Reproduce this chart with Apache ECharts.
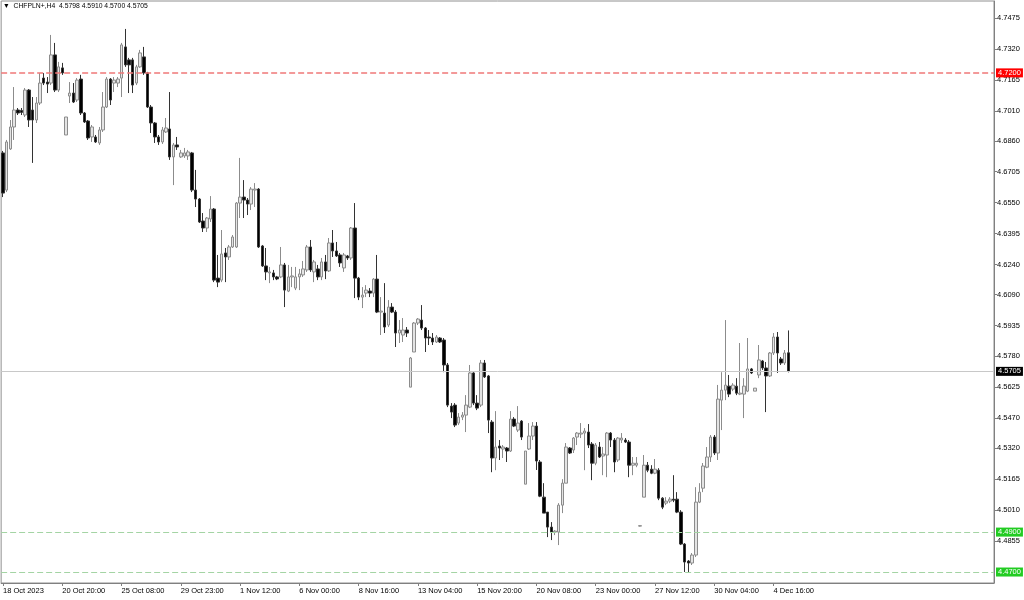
<!DOCTYPE html>
<html>
<head>
<meta charset="utf-8">
<script src="https://cdn.jsdelivr.net/npm/echarts@6/dist/echarts.min.js"></script>
<style>
html,body{margin:0;padding:0;background:#fff;}
#chart{width:1024px;height:600px;}
</style>
</head>
<body>
<div id="chart"></div>
<script>
// ---- data ----
const symbolTitle = '\u25BC  CHFPLN+,H4  4.5798 4.5910 4.5700 4.5705';
const timeLabels = ['18 Oct 2023','20 Oct 20:00','25 Oct 08:00','29 Oct 23:00','1 Nov 12:00','6 Nov 00:00','8 Nov 16:00','13 Nov 04:00','15 Nov 20:00','20 Nov 08:00','23 Nov 00:00','27 Nov 12:00','30 Nov 04:00','4 Dec 16:00'];
const barsPerLabel = 16;
const emptyBarsRight = 55;
const yTicks = [4.7475,4.7320,4.7165,4.7010,4.6860,4.6705,4.6550,4.6395,4.6240,4.6090,4.5935,4.5780,4.5625,4.5470,4.5320,4.5165,4.5010,4.4855];
const yMin = 4.4645, yMax = 4.7560;
const resistanceLevel = [4.7200];
const currentPrice = [4.5705];
const supportLevels = [4.4900, 4.4700];
// [open, close, low, high]
const ohlc = [
[4.6799,4.6598,4.6578,4.6809],[4.6613,4.6854,4.6603,4.6864],[4.6819,4.6929,4.6814,4.6964],[4.6929,4.7014,4.6864,4.7129],
[4.7014,4.6999,4.6989,4.7024],[4.7012,4.7002,4.6989,4.7024],[4.6989,4.7114,4.6979,4.7124],[4.7114,4.6964,4.6929,4.7119],
[4.7014,4.6964,4.6749,4.7079],[4.6964,4.7049,4.6949,4.7079],[4.7049,4.7149,4.7039,4.7199],[4.7174,4.7149,4.7139,4.7199],
[4.7154,4.7144,4.7099,4.7179],[4.7149,4.7290,4.7139,4.7390],[4.7290,4.7114,4.7104,4.7350],[4.7114,4.7230,4.7104,4.7255],
[4.7225,4.7200,4.7190,4.7250],[4.6889,4.6979,4.6889,4.6979],[4.7084,4.7099,4.7049,4.7154],[4.7099,4.7054,4.7049,4.7149],
[4.7064,4.7164,4.7054,4.7174],[4.7169,4.6999,4.6989,4.7190],[4.6999,4.6954,4.6949,4.7004],[4.6959,4.6874,4.6864,4.6964],
[4.6879,4.6929,4.6854,4.6939],[4.6879,4.6854,4.6849,4.6889],[4.6849,4.6914,4.6839,4.6929],[4.6914,4.7029,4.6904,4.7104],
[4.7029,4.7169,4.7024,4.7179],[4.7169,4.7064,4.7039,4.7174],[4.7149,4.7164,4.7104,4.7179],[4.7149,4.7169,4.7129,4.7179],
[4.7174,4.7340,4.7079,4.7350],[4.7330,4.7240,4.7230,4.7420],[4.7265,4.7240,4.7099,4.7275],[4.7265,4.7139,4.7099,4.7275],
[4.7149,4.7230,4.7139,4.7240],[4.7230,4.7300,4.7225,4.7315],[4.7280,4.7200,4.7190,4.7330],[4.7200,4.7029,4.7024,4.7205],
[4.7029,4.6949,4.6899,4.7039],[4.6949,4.6879,4.6849,4.6954],[4.6879,4.6854,4.6839,4.6889],[4.6854,4.6914,4.6844,4.6929],
[4.6904,4.6924,4.6899,4.6974],[4.6919,4.6779,4.6764,4.7104],[4.6779,4.6839,4.6638,4.6849],[4.6839,4.6829,4.6814,4.6879],
[4.6779,4.6799,4.6774,4.6814],[4.6784,4.6799,4.6774,4.6824],[4.6784,4.6804,4.6764,4.6814],[4.6799,4.6613,4.6603,4.6804],
[4.6613,4.6568,4.6528,4.6714],[4.6568,4.6453,4.6448,4.6573],[4.6458,4.6423,4.6403,4.6498],[4.6423,4.6473,4.6403,4.6478],
[4.6468,4.6518,4.6453,4.6583],[4.6518,4.6162,4.6152,4.6523],[4.6172,4.6152,4.6127,4.6288],[4.6162,4.6293,4.6152,4.6413],
[4.6298,4.6278,4.6152,4.6323],[4.6278,4.6328,4.6263,4.6338],[4.6328,4.6378,4.6323,4.6388],[4.6328,4.6548,4.6323,4.6553],
[4.6548,4.6578,4.6473,4.6774],[4.6578,4.6563,4.6473,4.6663],[4.6563,4.6543,4.6488,4.6573],[4.6543,4.6618,4.6513,4.6628],
[4.6613,4.6618,4.6528,4.6648],[4.6618,4.6328,4.6323,4.6623],[4.6333,4.6233,4.6228,4.6338],[4.6233,4.6203,4.6162,4.6323],
[4.6198,4.6203,4.6147,4.6228],[4.6198,4.6178,4.6162,4.6213],[4.6178,4.6168,4.6162,4.6183],[4.6178,4.6238,4.6172,4.6328],
[4.6238,4.6112,4.6027,4.6248],[4.6107,4.6178,4.6102,4.6238],[4.6178,4.6183,4.6127,4.6228],[4.6122,4.6178,4.6112,4.6228],
[4.6178,4.6193,4.6112,4.6218],[4.6188,4.6218,4.6178,4.6258],[4.6213,4.6328,4.6203,4.6338],[4.6328,4.6213,4.6203,4.6363],
[4.6203,4.6253,4.6152,4.6263],[4.6218,4.6178,4.6162,4.6238],[4.6178,4.6253,4.6162,4.6273],[4.6253,4.6208,4.6167,4.6288],
[4.6208,4.6348,4.6203,4.6373],[4.6348,4.6308,4.6278,4.6413],[4.6308,4.6283,4.6278,4.6353],[4.6288,4.6248,4.6228,4.6298],
[4.6223,4.6288,4.6203,4.6298],[4.6283,4.6273,4.6263,4.6288],[4.6273,4.6423,4.6263,4.6428],[4.6423,4.6172,4.6072,4.6548],
[4.6172,4.6077,4.6062,4.6178],[4.6077,4.6087,4.6022,4.6127],[4.6097,4.6112,4.6077,4.6137],[4.6107,4.6097,4.6077,4.6122],
[4.6097,4.6167,4.6077,4.6172],[4.6167,4.6002,4.5997,4.6288],[4.6002,4.6007,4.5887,4.6077],[4.5997,4.5927,4.5897,4.6147],
[4.5937,4.6027,4.5927,4.6062],[4.6027,4.6002,4.5997,4.6047],[4.6002,4.5897,4.5827,4.6012],[4.5897,4.5912,4.5847,4.5962],
[4.5887,4.5912,4.5852,4.5972],[4.5912,4.5897,4.5877,4.5927],[4.5626,4.5772,4.5626,4.5777],[4.5802,4.5947,4.5802,4.5952],
[4.5947,4.5967,4.5937,4.5972],[4.5962,4.5922,4.5912,4.6037],[4.5922,4.5872,4.5802,4.5927],[4.5877,4.5872,4.5837,4.5912],
[4.5872,4.5852,4.5837,4.5897],[4.5852,4.5877,4.5847,4.5887],[4.5872,4.5852,4.5847,4.5877],[4.5862,4.5737,4.5701,4.5872],
[4.5737,4.5536,4.5526,4.5747],[4.5531,4.5501,4.5471,4.5546],[4.5536,4.5436,4.5426,4.5546],[4.5446,4.5476,4.5436,4.5496],
[4.5476,4.5486,4.5461,4.5501],[4.5486,4.5536,4.5401,4.5586],[4.5526,4.5697,4.5521,4.5737],[4.5697,4.5546,4.5536,4.5701],
[4.5546,4.5521,4.5511,4.5586],[4.5536,4.5747,4.5526,4.5762],[4.5747,4.5677,4.5672,4.5762],[4.5682,4.5461,4.5396,4.5687],
[4.5451,4.5271,4.5200,4.5461],[4.5271,4.5326,4.5210,4.5506],[4.5331,4.5321,4.5261,4.5361],[4.5316,4.5326,4.5271,4.5336],
[4.5321,4.5306,4.5251,4.5326],[4.5306,4.5466,4.5301,4.5506],[4.5466,4.5431,4.5426,4.5476],[4.5411,4.5446,4.5401,4.5531],
[4.5456,4.5376,4.5361,4.5461],[4.5140,4.5306,4.5140,4.5306],[4.5316,4.5381,4.5311,4.5446],[4.5381,4.5431,4.5361,4.5451],
[4.5431,4.5256,4.5211,4.5451],[4.5251,4.5080,4.5075,4.5261],[4.5075,4.4995,4.4995,4.5145],[4.5000,4.4925,4.4875,4.5000],
[4.4925,4.4900,4.4860,4.4950],[4.4900,4.4905,4.4885,4.4910],[4.4900,4.5035,4.4835,4.5045],[4.5035,4.5145,4.4995,4.5165],
[4.5145,4.5326,4.5145,4.5346],[4.5321,4.5296,4.5291,4.5326],[4.5311,4.5371,4.5296,4.5376],[4.5376,4.5396,4.5336,4.5401],
[4.5391,4.5396,4.5371,4.5446],[4.5396,4.5406,4.5210,4.5421],[4.5401,4.5336,4.5321,4.5441],[4.5341,4.5245,4.5160,4.5351],
[4.5245,4.5336,4.5235,4.5346],[4.5326,4.5276,4.5271,4.5351],[4.5281,4.5291,4.5185,4.5326],[4.5286,4.5396,4.5175,4.5401],
[4.5396,4.5361,4.5326,4.5401],[4.5361,4.5251,4.5200,4.5371],[4.5261,4.5371,4.5251,4.5376],[4.5361,4.5371,4.5346,4.5396],
[4.5361,4.5351,4.5346,4.5371],[4.5351,4.5235,4.5175,4.5361],[4.5235,4.5245,4.5185,4.5276],[4.5235,4.5245,4.5225,4.5276],
[4.4930,4.4932,4.4928,4.4934],[4.5075,4.5235,4.5075,4.5286],[4.5235,4.5210,4.5200,4.5251],[4.5215,4.5195,4.5190,4.5235],
[4.5195,4.5215,4.5190,4.5266],[4.5210,4.5070,4.5060,4.5220],[4.5070,4.5025,4.5015,4.5075],[4.5045,4.5055,4.5035,4.5075],
[4.5055,4.5065,4.5045,4.5075],[4.5065,4.5060,4.5050,4.5185],[4.5065,4.5000,4.4995,4.5100],[4.5000,4.4840,4.4835,4.5010],
[4.4840,4.4750,4.4700,4.4845],[4.4755,4.4745,4.4700,4.4760],[4.4745,4.4785,4.4735,4.4795],[4.4785,4.5050,4.4775,4.5125],
[4.5050,4.5100,4.5045,4.5145],[4.5120,4.5231,4.5100,4.5246],[4.5225,4.5276,4.5220,4.5326],[4.5276,4.5376,4.5251,4.5386],
[4.5376,4.5296,4.5286,4.5386],[4.5296,4.5566,4.5261,4.5637],[4.5561,4.5611,4.5411,4.5701],[4.5611,4.5636,4.5561,4.5962],
[4.5631,4.5591,4.5576,4.5687],[4.5616,4.5636,4.5606,4.5646],[4.5631,4.5596,4.5586,4.5671],[4.5591,4.5596,4.5586,4.5847],
[4.5591,4.5631,4.5471,4.5671],[4.5606,4.5717,4.5601,4.5872],[4.5717,4.5697,4.5692,4.5722],[4.5606,4.5621,4.5606,4.5621],
[4.5687,4.5762,4.5671,4.5837],[4.5757,4.5722,4.5712,4.5762],[4.5722,4.5682,4.5501,4.5752],[4.5682,4.5797,4.5677,4.5802],
[4.5797,4.5877,4.5787,4.5897],[4.5877,4.5797,4.5697,4.5902],[4.5767,4.5747,4.5737,4.5777],[4.5747,4.5797,4.5737,4.5812],
[4.5798,4.5705,4.5700,4.5910]
];

// ---- chart ----
const categories = [];
for (let i = 0; i < ohlc.length + emptyBarsRight; i++) categories.push(String(i));
const isLabelBar = (i) => i % barsPerLabel === 0 && i / barsPerLabel < timeLabels.length;

const FONT = 'Liberation Sans, Arial, sans-serif';
const chart = echarts.init(document.getElementById('chart'), null, {renderer: 'canvas'});

function levelSeries(values, lineColor, lineWidth, dash, bg) {
  return {
    type: 'line', data: [], silent: true, z: 1, color: lineColor,
    markLine: {
      silent: true, symbol: ['none', 'none'], animation: false, precision: 4,
      lineStyle: {color: lineColor, width: lineWidth, type: dash, opacity: 1},
      emphasis: {disabled: true},
      label: {
        show: true, position: 'end', distance: 2,
        formatter: '{b}',
        color: '#ffffff', backgroundColor: bg, padding: [1, 2, 0, 2],
        fontFamily: FONT, fontSize: 7.5
      },
      data: values.map(v => ({yAxis: v, name: v.toFixed(4)}))
    }
  };
}

chart.setOption({
  animation: false,
  backgroundColor: '#ffffff',
  title: {
    text: symbolTitle, left: 3, top: 3, padding: 0,
    textStyle: {fontFamily: FONT, fontSize: 6.8, fontWeight: 'normal', color: '#000'}
  },
  grid: {left: 0, right: 30, top: 1, bottom: 17, show: true, borderColor: '#909090', borderWidth: 1, containLabel: false},
  xAxis: {
    type: 'category', data: categories, boundaryGap: true,
    axisLine: {show: true, lineStyle: {color: '#808080'}},
    axisTick: {show: true, interval: (i) => isLabelBar(i), alignWithLabel: true, length: 3, lineStyle: {color: '#808080'}},
    axisLabel: {
      show: true, interval: (i) => isLabelBar(i), align: 'left', margin: 4,
      formatter: (v, i) => timeLabels[i / barsPerLabel] || '',
      fontFamily: FONT, fontSize: 7.5, color: '#000'
    },
    splitLine: {show: false}
  },
  yAxis: {
    type: 'value', position: 'right', min: yMin, max: yMax, scale: true,
    axisLine: {show: true, lineStyle: {color: '#808080'}},
    axisTick: {show: true, customValues: yTicks, length: 3, lineStyle: {color: '#808080'}},
    axisLabel: {show: true, customValues: yTicks, margin: 3, formatter: (v) => v.toFixed(4), fontFamily: FONT, fontSize: 7.5, color: '#000'},
    splitLine: {show: false}
  },
  series: [
    levelSeries(resistanceLevel, '#f07878', 1.5, [6, 3], '#ff0000'),
    levelSeries(currentPrice, '#c8c8c8', 1, 'solid', '#000000'),
    levelSeries(supportLevels, '#a4d4a4', 1, [6, 3], '#22cc22'),
    {
      type: 'candlestick',
      data: ohlc,
      barWidth: 3,
      z: 3,
      itemStyle: {color: '#e4e4e4', color0: '#000000', borderColor: '#8c8c8c', borderColor0: '#333333', borderWidth: 1}
    }
  ]
});
</script>
</body>
</html>
